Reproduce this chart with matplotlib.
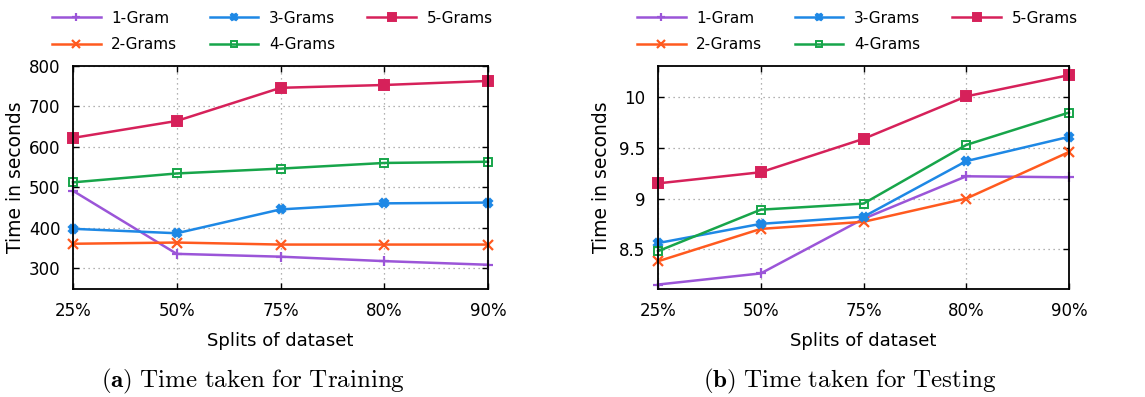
import matplotlib
matplotlib.use("Agg")
import matplotlib.pyplot as plt

plt.rcParams['font.family'] = ['DejaVu Sans']
plt.rcParams['mathtext.fontset'] = 'cm'

splits = ['25%', '50%', '75%', '80%', '90%']
labels = ['1-Gram', '2-Grams', '3-Grams', '4-Grams', '5-Grams']

# training time (seconds)
train_1g = [491, 335, 328, 317, 308]
train_2g = [360, 363, 358, 358, 358]
train_3g = [397, 386, 445, 460, 462]
train_4g = [512, 534, 546, 560, 563]
train_5g = [622, 664, 746, 753, 763]

# testing time (seconds)
test_1g = [8.15, 8.26, 8.80, 9.22, 9.21]
test_2g = [8.38, 8.70, 8.77, 9.00, 9.46]
test_3g = [8.56, 8.75, 8.82, 9.37, 9.61]
test_4g = [8.48, 8.89, 8.95, 9.53, 9.85]
test_5g = [9.15, 9.26, 9.59, 10.01, 10.22]

colors = ['#9b55d8', '#ff5a1f', '#1e88e5', '#17a54a', '#d6215a']
markers = ['+', 'x', 'X', 's', 's']
msizes = [7, 7, 6, 6, 7]

fig = plt.figure(figsize=(11.45, 3.97), dpi=100)
ax1 = fig.add_axes([73/1145, 1-289/397, 415/1145, 223/397])
ax2 = fig.add_axes([658/1145, 1-289/397, 411/1145, 223/397])


def draw(ax, series):
    x = list(range(len(splits)))
    for i, ys in enumerate(series):
        kw = dict(color=colors[i], marker=markers[i], markersize=msizes[i],
                  linewidth=1.8, markeredgewidth=1.6 if i < 3 else 1.4)
        if i == 3:
            kw['markerfacecolor'] = 'none'
        ax.plot(x, ys, label=labels[i], clip_on=False, **kw)
    ax.set_xlim(0, len(splits) - 1)
    ax.set_xticks(x)
    ax.set_xticklabels(splits)
    ax.grid(True, color='#999999', linestyle=(0, (1, 3)), linewidth=0.9)
    ax.tick_params(direction='in', top=True, right=True, labelsize=12,
                   length=4, width=1, pad=9)
    for s in ax.spines.values():
        s.set_linewidth(1.3)
    ax.set_xlabel('Splits of dataset', fontsize=13, labelpad=9)


draw(ax1, [train_1g, train_2g, train_3g, train_4g, train_5g])
ax1.set_ylim(248, 800)
ax1.set_yticks([300, 400, 500, 600, 700, 800])
ax1.set_ylabel('Time in seconds', fontsize=13.5, labelpad=3)

draw(ax2, [test_1g, test_2g, test_3g, test_4g, test_5g])
ax2.set_ylim(8.106, 10.31)
ax2.set_yticks([8.5, 9, 9.5, 10])
ax2.set_yticklabels(['8.5', '9', '9.5', '10'])
ax2.set_ylabel('Time in seconds', fontsize=13.5, labelpad=6)

for ax, bx in [(ax1, 38 / 1145), (ax2, 623 / 1145)]:
    fig.legend(handles=ax.get_lines(), loc='upper left',
               bbox_to_anchor=(bx, 1.008), ncol=3, frameon=False,
               fontsize=11, handlelength=3.2, columnspacing=2.1,
               labelspacing=0.75, handletextpad=0.7, numpoints=1,
               markerscale=0.8)

fig.text(253/1145, 1-381/397, r'$\mathbf{(a)}\ \mathrm{Time\ taken\ for\ Training}$',
         ha='center', va='center', fontsize=18)
fig.text(850/1145, 1-381/397, r'$\mathbf{(b)}\ \mathrm{Time\ taken\ for\ Testing}$',
         ha='center', va='center', fontsize=18)

fig.savefig('out.png', dpi=100)
